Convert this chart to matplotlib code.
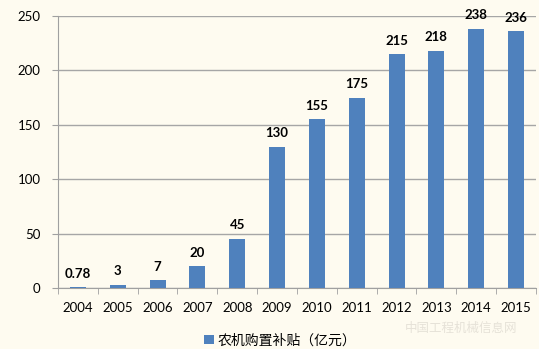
import matplotlib
matplotlib.use('Agg')
import matplotlib.pyplot as plt
import numpy as np

years = ['2004', '2005', '2006', '2007', '2008', '2009', '2010', '2011',
         '2012', '2013', '2014', '2015']
subsidy = [0.78, 3, 7, 20, 45, 130, 155, 175, 215, 218, 238, 236]
labels = ['0.78', '3', '7', '20', '45', '130', '155', '175', '215', '218', '238', '236']

plt.rcParams['font.family'] = ['Lato', 'Noto Sans CJK SC', 'DejaVu Sans']

bg = '#fefbf0'
fig = plt.figure(figsize=(5.39, 3.49), dpi=100, facecolor=bg)
ax = fig.add_axes([0.1076, 0.1748, 0.8868, 0.7792], facecolor=bg)

x = np.arange(len(years))
ax.bar(x, subsidy, width=0.4, color='#4f81bd', zorder=3, label='农机购置补贴（亿元）')

for xi, v, t in zip(x, subsidy, labels):
    ax.text(xi, v + 7, t, ha='center', va='bottom', fontsize=9.5, fontweight='bold', color='black')

ax.set_xlim(-0.5, len(years) - 0.5)
ax.set_ylim(0, 250)
ax.set_yticks([0, 50, 100, 150, 200, 250])
ax.set_xticks(x)
ax.set_xticklabels(years)
ax.set_xticks(np.arange(-0.5, len(years), 1), minor=True)
ax.tick_params(axis='x', which='major', length=0, labelsize=9.5, pad=10)
ax.tick_params(axis='x', which='minor', length=4, color='#a0a0a0', direction='out')
ax.tick_params(axis='y', length=4.5, color='#a0a0a0', labelsize=9.5, pad=8)

ax.grid(axis='y', color='#a6a6a6', linewidth=1, zorder=0)
for s in ['top', 'right']:
    ax.spines[s].set_visible(False)
ax.spines['left'].set_color('#a0a0a0')
ax.spines['bottom'].set_color('#a0a0a0')

fig.legend(loc='lower center', bbox_to_anchor=(0.52, 0.0), frameon=False, fontsize=10,
           handlelength=0.7, handleheight=0.7, handletextpad=0.3,
           borderaxespad=0, borderpad=0.2)

# watermark
fig.text(0.855, 0.06, '中国工程机械信息网', ha='center', va='center', fontsize=9,
         color='#e6e2d8', family=['Noto Sans CJK SC'])

fig.savefig('out.png', dpi=100, facecolor=bg)
